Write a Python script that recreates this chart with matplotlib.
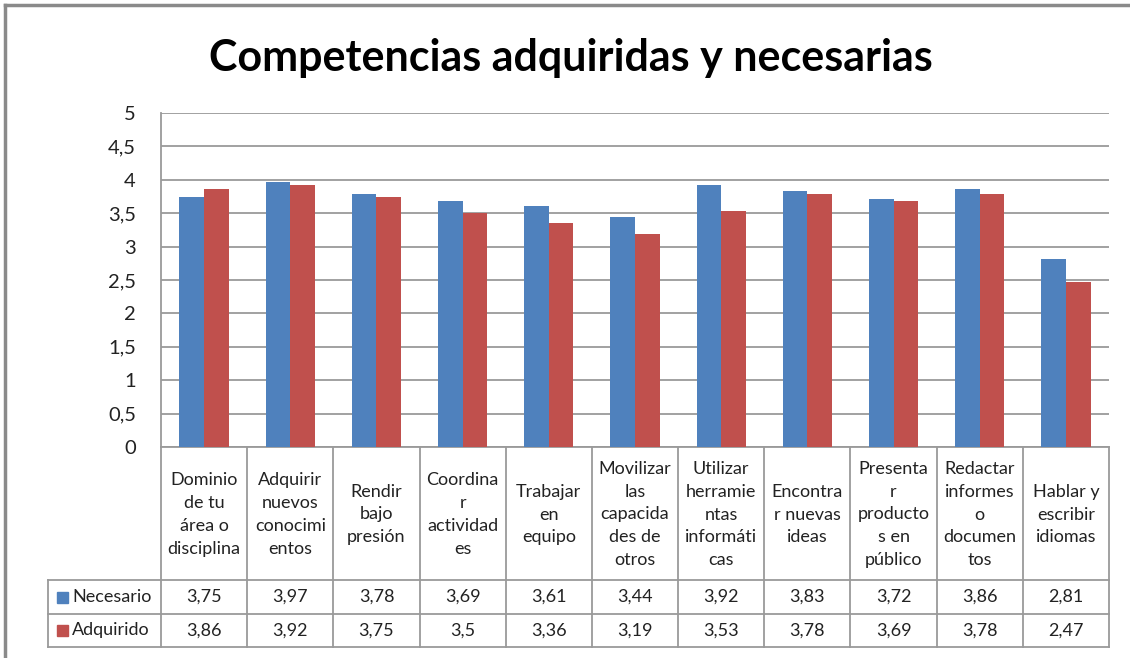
import numpy as np
import matplotlib.pyplot as plt
from matplotlib.transforms import blended_transform_factory
from matplotlib.patches import Rectangle

plt.rcParams['font.family'] = ['Lato', 'DejaVu Sans']

categorias = [
    "Dominio\nde tu\nárea o\ndisciplina",
    "Adquirir\nnuevos\nconocimi\nentos",
    "Rendir\nbajo\npresión",
    "Coordina\nr\nactividad\nes",
    "Trabajar\nen\nequipo",
    "Movilizar\nlas\ncapacida\ndes de\notros",
    "Utilizar\nherramie\nntas\ninformáti\ncas",
    "Encontra\nr nuevas\nideas",
    "Presenta\nr\nproducto\ns en\npúblico",
    "Redactar\ninformes\no\ndocumen\ntos",
    "Hablar y\nescribir\nidiomas",
]
necesario = [3.75, 3.97, 3.78, 3.69, 3.61, 3.44, 3.92, 3.83, 3.72, 3.86, 2.81]
adquirido = [3.86, 3.92, 3.75, 3.5, 3.36, 3.19, 3.53, 3.78, 3.69, 3.78, 2.47]
series = ["Necesario", "Adquirido"]
yticks = [0, 0.5, 1, 1.5, 2, 2.5, 3, 3.5, 4, 4.5, 5]

azul = '#4f81bd'
rojo = '#c0504d'
gris = '#9a9a9a'
texto = '#222222'

def coma(v):
    return ('%g' % v).replace('.', ',')

W, H = 1130, 658
fig = plt.figure(figsize=(W / 100, H / 100), dpi=100)

def px(x0, y0, x1, y1):  # pixel box -> figure fraction
    return [x0 / W, 1 - y1 / H, (x1 - x0) / W, (y1 - y0) / H]

# overlay in pixel coords for table, legend and border
ov = fig.add_axes([0, 0, 1, 1])
ov.set_xlim(0, W)
ov.set_ylim(H, 0)
ov.axis('off')

ax = fig.add_axes(px(161, 113, 1109, 447))
x = np.arange(len(categorias))
bw = 1 / 3.5
ax.bar(x - bw / 2, necesario, bw, color=azul, zorder=3)
ax.bar(x + bw / 2, adquirido, bw, color=rojo, zorder=3)
ax.set_xlim(-0.5, len(categorias) - 0.5)
ax.set_ylim(0, 5)
ax.set_yticks(yticks)
ax.set_yticklabels([coma(t) for t in yticks], fontsize=14.5, color=texto)
ax.set_xticks([])
ax.yaxis.grid(True, color=gris, lw=1.3, zorder=0)
ax.tick_params(axis='y', length=0, pad=18)
for s in ['top', 'right']:
    ax.spines[s].set_visible(False)
ax.spines['left'].set_color(gris)
ax.spines['left'].set_linewidth(1.3)
ax.spines['bottom'].set_color(gris)
ax.spines['bottom'].set_linewidth(1.3)

# table under the chart
tr = blended_transform_factory(ax.transData, ov.transData)
filas = [447, 580, 614, 647]
for i in range(len(categorias) + 1):
    ov.plot([i - 0.5, i - 0.5], [filas[0], filas[-1]], color=gris, lw=1.3, transform=tr)
ov.plot([48, 48], [filas[1], filas[-1]], color=gris, lw=1.3)
for y in filas[1:]:
    ov.plot([48, 1109], [y, y], color=gris, lw=1.3)

for i, cat in enumerate(categorias):
    ov.text(i, (filas[0] + filas[1]) / 2 + 1, cat, transform=tr, ha='center', va='center',
            multialignment='center', fontsize=13, linespacing=1.52, color=texto)
    for r, vals in enumerate([necesario, adquirido]):
        ov.text(i, (filas[r + 1] + filas[r + 2]) / 2, coma(vals[i]), transform=tr,
                ha='center', va='center', fontsize=13, color=texto)

for r, (nombre, col) in enumerate(zip(series, [azul, rojo])):
    yc = (filas[r + 1] + filas[r + 2]) / 2
    ov.add_patch(Rectangle((57, yc - 5.5), 11, 11, color=col))
    ov.text(72, yc, nombre, ha='left', va='center', fontsize=13, color=texto)

fig.text(571 / W, 1 - 58 / H, "Competencias adquiridas y necesarias",
         ha='center', va='center', fontsize=31, fontweight='bold')

# outer chart border (cropped)
ov.plot([5, W], [5, 5], color='#8a8a8a', lw=2.5)
ov.plot([5, 5], [5, H], color='#8a8a8a', lw=2.5)

fig.savefig('out.png', dpi=100)
